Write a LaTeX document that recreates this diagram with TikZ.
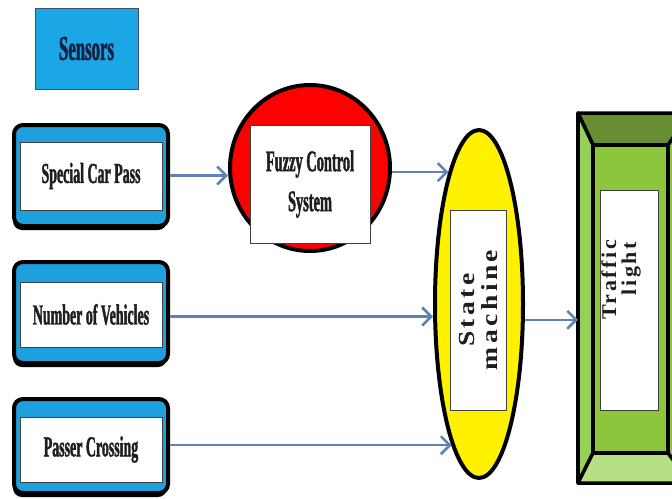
\documentclass[tikz,border=0pt]{standalone}
\usepackage{fontspec}
\setmainfont{Liberation Serif}
\newfontfamily\condfont[FakeStretch=0.48,BoldFont={Liberation Serif Bold},BoldFeatures={FakeBold=1.2}]{Liberation Serif}
\newfontfamily\spacedfont[FakeStretch=1.2,LetterSpace=15,BoldFont={Liberation Serif Bold}]{Liberation Serif}
\newfontfamily\tlfont[FakeStretch=1.05,LetterSpace=12,BoldFont={Liberation Serif Bold}]{Liberation Serif}
\usetikzlibrary{arrows.meta,shapes.geometric}
\definecolor{skyb}{RGB}{27,166,230}
\definecolor{bandb}{RGB}{30,160,222}
\definecolor{arrowc}{RGB}{95,130,180}
\definecolor{gmid}{RGB}{140,198,63}
\definecolor{gdark}{RGB}{104,142,52}
\definecolor{gleft}{RGB}{150,208,88}
\definecolor{glight}{RGB}{182,224,132}
\definecolor{txt}{RGB}{30,30,30}
\definecolor{navy}{RGB}{22,32,66}
\begin{document}
\begin{tikzpicture}[x=1pt,y=-1pt,
  conn/.style={draw=arrowc, line width=2.5pt, -{Straight Barb[length=9pt,width=18pt]}},
  sensorbox/.style={draw=black, line width=4pt, fill=bandb, rounded corners=9pt,
    minimum width=154pt, inner sep=0pt,
    preaction={fill=black, transform canvas={shift={(-1pt,-4pt)}}}},
  whitebox/.style={draw=black!75, line width=0.8pt, fill=white, inner sep=0pt,
    text=txt, font=\condfont\bfseries\fontsize{29}{30}\selectfont},
  rotbox/.style={draw=black!75, line width=0.8pt, fill=white, inner sep=0pt, rotate=90},
  rottext/.style={rotate=90, inner sep=0pt, text=txt},
  bevel/.style={draw=black, line width=3.5pt, line join=round}
]
\useasboundingbox (0,0) rectangle (672,498);
\fill[white] (0,0) rectangle (672,498);

% Sensors header
\node[draw=navy!80, line width=1pt, fill=skyb, minimum width=103pt, minimum height=81pt,
  inner sep=0pt, text=navy, font=\condfont\bfseries\fontsize{35}{36}\selectfont]
  (sensors) at (86.5,48.5) {Sensors};

% Sensor boxes
\node[sensorbox, minimum height=101pt] (scp) at (91,175.5) {};
\node[whitebox, minimum width=142pt, minimum height=68pt] (scpl) at (91,176) {Special Car Pass};

\node[sensorbox, minimum height=101pt] (nov) at (91,312.5) {};
\node[whitebox, minimum width=142pt, minimum height=65pt] (novl) at (91,314.5) {Number of Vehicles};

\node[sensorbox, minimum height=94pt] (pc) at (91,446) {};
\node[whitebox, minimum width=142pt, minimum height=65pt] (pcl) at (91,449.5) {Passer Crossing};

% Fuzzy control system
\node[ellipse, draw=black, line width=4pt, fill=red, minimum width=160pt, minimum height=166pt,
  inner sep=0pt] (fuzzy) at (310,168) {};
\node[whitebox, minimum width=120pt, minimum height=118pt, align=center,
  font=\condfont\bfseries\fontsize{30}{40}\selectfont] (fuzzyl) at (310,184) {Fuzzy Control\\System};

% State machine
\node[ellipse, draw=black, line width=4pt, fill=yellow, minimum width=88pt, minimum height=348pt,
  inner sep=0pt] (state) at (479,304) {};
\node[rotbox, minimum width=200pt, minimum height=56pt, align=center, text=txt,
  font=\spacedfont\bfseries\fontsize{23}{23}\selectfont] (statel) at (478,310) {State\\machine};

% Traffic light (bevel)
\node[minimum width=106pt, minimum height=370pt, inner sep=0pt, outer sep=0pt] (traffic) at (631,298) {};
\fill[gmid] (578,113) rectangle (690,483);
\filldraw[bevel, fill=gdark] (578,113) -- (690,113) -- (668,145) -- (593,145) -- cycle;
\filldraw[bevel, fill=gleft] (578,113) -- (593,145) -- (593,453) -- (578,483) -- cycle;
\filldraw[bevel, fill=glight] (578,483) -- (690,483) -- (668,453) -- (593,453) -- cycle;
\draw[bevel] (593,145) rectangle (668,453);
\draw[bevel] (578,113) -- (578,483);
\node[rotbox, minimum width=220pt, minimum height=58pt] (tl) at (629,300) {};
\node[rottext, anchor=base east, font=\tlfont\bfseries\fontsize{21}{21}\selectfont] (tl1) at (616,240) {Traffic};
\node[rottext, anchor=base east, font=\tlfont\bfseries\fontsize{21}{21}\selectfont] (tl2) at (636,242) {light};

% Connectors
\draw[conn] (scp.east) -- (scp.east -| fuzzy.west);
\draw[conn] (state.103 -| fuzzy.east) -- (state.103);
\draw[conn] (nov.east) ++(0,4) coordinate (novs) -- (novs -| state.west);
\draw[conn] (state.259 -| pc.east) -- (state.259);
\draw[conn] (state.-19) -- (state.-19 -| traffic.west);
\end{tikzpicture}
\end{document}
